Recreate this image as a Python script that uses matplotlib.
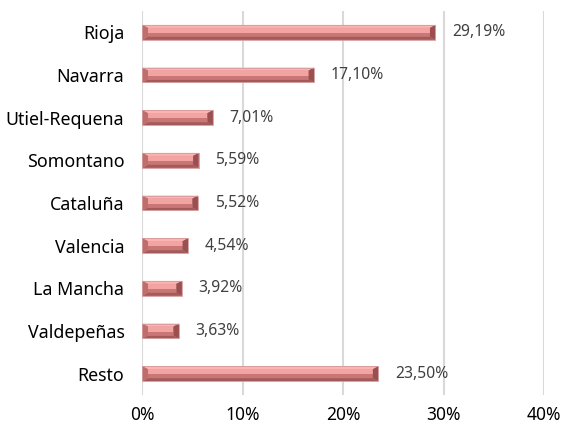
import matplotlib
matplotlib.use("Agg")
import matplotlib.pyplot as plt
from matplotlib.patches import Polygon
from matplotlib.ticker import FuncFormatter

categories = ["Rioja", "Navarra", "Utiel-Requena", "Somontano", "Cataluña",
              "Valencia", "La Mancha", "Valdepeñas", "Resto"]
values = [29.19, 17.10, 7.01, 5.59, 5.52, 4.54, 3.92, 3.63, 23.50]
value_labels = ["29,19%", "17,10%", "7,01%", "5,59%", "5,52%",
                "4,54%", "3,92%", "3,63%", "23,50%"]
xticks = [0, 10, 20, 30, 40]

FONT = ["Noto Sans", "DejaVu Sans"]

fig = plt.figure(figsize=(5.65, 4.3), dpi=100)
ax = fig.add_axes([0.2522, 0.0814, 0.7106, 0.893])

n = len(categories)
ypos = list(range(n))[::-1]  # Rioja on top
h = 0.35
bx = 0.55   # bevel width in x (data units)
by = h * 0.2  # bevel height in y

for y, v in zip(ypos, values):
    top = y + h / 2
    bot = y - h / 2
    ax.barh(y, v, height=h, color="#e49494", edgecolor="none", zorder=3)
    ax.add_patch(Polygon([[0, top], [v, top], [v - bx, top - by], [bx, top - by]],
                         closed=True, fc="#fbb4b2", ec="none", zorder=4))
    ax.add_patch(Polygon([[bx, top - by], [v - bx, top - by], [v - bx, y - h * 0.05], [bx, y - h * 0.05]],
                         closed=True, fc="#f2a3a2", ec="none", zorder=4))
    ax.add_patch(Polygon([[bx, y - h * 0.05], [v - bx, y - h * 0.05], [v - bx, bot + by], [bx, bot + by]],
                         closed=True, fc="#c97776", ec="none", zorder=4))
    ax.add_patch(Polygon([[0, bot], [v, bot], [v - bx, bot + by], [bx, bot + by]],
                         closed=True, fc="#a35a59", ec="none", zorder=4))
    ax.add_patch(Polygon([[v, top], [v, bot], [v - bx, bot + by], [v - bx, top - by]],
                         closed=True, fc="#9a5050", ec="none", zorder=5))
    ax.add_patch(Polygon([[0, top], [0, bot], [bx, bot + by], [bx, top - by]],
                         closed=True, fc="#c06e6d", ec="none", zorder=5))
    ax.barh(y, v, height=h, color="none", edgecolor="#d39a9a", linewidth=0.6, zorder=6)

for y, v, lab in zip(ypos, values, value_labels):
    ax.annotate(lab, xy=(v, y), xytext=(12, 0), textcoords="offset points",
                ha="left", va="center", fontsize=11.3, color="#404040",
                family=FONT)

ax.set_xlim(0, 40)
ax.set_ylim(-0.5, n - 0.5)
ax.set_xticks(xticks)
ax.xaxis.set_major_formatter(FuncFormatter(lambda x, p: f"{int(x)}%"))
ax.set_yticks(ypos)
ax.set_yticklabels(categories, family=FONT)
for t in ax.get_xticklabels():
    t.set_family(FONT)
ax.tick_params(axis="y", length=0, pad=13, labelsize=12.8, labelcolor="#000000")
ax.tick_params(axis="x", length=0, pad=8, labelsize=12.5, labelcolor="#000000")
ax.grid(axis="x", color="#d9d9d9", linewidth=1.5, zorder=0)
ax.set_axisbelow(True)
for s in ax.spines.values():
    s.set_visible(False)

fig.savefig("out.png", dpi=100)
